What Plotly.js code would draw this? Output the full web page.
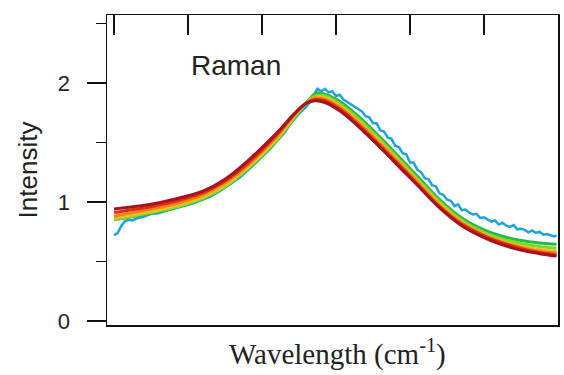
<!DOCTYPE html>
<html>
<head>
<meta charset="utf-8">
<script src="https://cdn.plot.ly/plotly-3.0.1.min.js"></script>
<style>html,body{margin:0;padding:0;background:#fff;}#chart{width:564px;height:375px;}</style>
</head>
<body>
<div id="chart"></div>
<script>
// Shared x grid for the smooth curves (arbitrary wavenumber units)
var xSmooth = [0, 20, 50, 80, 120, 150, 180, 220, 245, 260, 272, 285, 305, 330, 360, 390, 410, 440, 470, 500, 520, 550, 575, 598];

var darkRed    = [0.94, 0.955, 0.98, 1.02, 1.09, 1.19, 1.34, 1.58, 1.75, 1.83, 1.85, 1.835, 1.765, 1.635, 1.455, 1.265, 1.14, 0.95, 0.80, 0.70, 0.65, 0.595, 0.565, 0.545];
var red        = [0.91, 0.93, 0.96, 1.00, 1.075, 1.175, 1.32, 1.565, 1.745, 1.83, 1.86, 1.85, 1.78, 1.65, 1.47, 1.28, 1.15, 0.96, 0.812, 0.715, 0.665, 0.61, 0.575, 0.555];
var orange     = [0.88, 0.905, 0.94, 0.98, 1.06, 1.16, 1.305, 1.55, 1.74, 1.83, 1.87, 1.86, 1.795, 1.665, 1.485, 1.295, 1.165, 0.972, 0.822, 0.722, 0.672, 0.618, 0.585, 0.57];
var yellow     = [0.86, 0.885, 0.92, 0.96, 1.04, 1.14, 1.285, 1.53, 1.73, 1.83, 1.88, 1.875, 1.81, 1.68, 1.50, 1.31, 1.18, 0.985, 0.832, 0.73, 0.68, 0.63, 0.60, 0.585];
var lightGreen = [0.85, 0.875, 0.91, 0.95, 1.03, 1.13, 1.275, 1.52, 1.72, 1.83, 1.89, 1.89, 1.825, 1.70, 1.52, 1.325, 1.195, 1.00, 0.847, 0.745, 0.70, 0.65, 0.625, 0.61];
var green      = [0.85, 0.87, 0.905, 0.945, 1.025, 1.125, 1.27, 1.515, 1.715, 1.83, 1.91, 1.905, 1.845, 1.72, 1.54, 1.345, 1.215, 1.02, 0.865, 0.765, 0.72, 0.675, 0.655, 0.645];

// Noisy measured spectrum (blue)
var xBlue = [0, 5, 10, 15, 20, 25, 30, 40, 50, 60, 70, 80, 90, 100, 110, 120, 130, 140, 150, 160, 170, 180, 190, 200, 210, 220, 230, 240, 250, 260, 265, 270, 275, 280, 285, 290, 295, 300, 305, 310, 320, 330, 335, 340, 345, 350, 355, 360, 365, 370, 375, 380, 385, 390, 395, 400, 405, 410, 415, 420, 425, 430, 435, 440, 445, 450, 455, 460, 465, 470, 475, 480, 485, 490, 495, 500, 505, 510, 515, 520, 525, 530, 535, 540, 545, 550, 555, 560, 565, 570, 575, 580, 585, 590, 595, 598];
var blue  = [0.72, 0.74, 0.80, 0.84, 0.85, 0.845, 0.86, 0.875, 0.90, 0.905, 0.925, 0.94, 0.955, 0.975, 0.995, 1.02, 1.045, 1.08, 1.12, 1.16, 1.205, 1.26, 1.32, 1.38, 1.44, 1.51, 1.58, 1.67, 1.74, 1.80, 1.84, 1.90, 1.95, 1.93, 1.95, 1.92, 1.93, 1.89, 1.90, 1.86, 1.82, 1.78, 1.76, 1.72, 1.71, 1.66, 1.66, 1.60, 1.59, 1.54, 1.53, 1.47, 1.46, 1.41, 1.40, 1.33, 1.33, 1.27, 1.25, 1.20, 1.19, 1.14, 1.13, 1.07, 1.06, 1.02, 1.01, 0.965, 0.98, 0.93, 0.935, 0.91, 0.895, 0.90, 0.865, 0.87, 0.855, 0.835, 0.845, 0.81, 0.825, 0.80, 0.79, 0.805, 0.77, 0.775, 0.765, 0.745, 0.76, 0.74, 0.75, 0.725, 0.73, 0.72, 0.71, 0.72];

var xTicks = [0, 100, 200, 300, 400, 500, 600];

function smooth(y, color, axis) {
  return {x: xSmooth, y: y, type: 'scatter', mode: 'lines', xaxis: axis || 'x',
          line: {color: color, width: 3, shape: 'spline', smoothing: 1}, hoverinfo: 'skip'};
}

var traces = [
  {x: xBlue, y: blue, type: 'scatter', mode: 'lines', line: {color: '#1fa3e0', width: 2.5}, hoverinfo: 'skip'},
  smooth(green, '#27b84a'),
  smooth(lightGreen, '#74dc2a'),
  smooth(yellow, '#e8c020'),
  smooth(orange, '#f28216'),
  smooth(red, '#e32a14'),
  smooth(darkRed, '#a3141f', 'x2')
];

var layout = {
  width: 564, height: 375,
  margin: {l: 107, r: 6, t: 15, b: 50},
  paper_bgcolor: '#fff', plot_bgcolor: '#fff',
  showlegend: false,
  xaxis: {
    range: [-9.5, 600], showgrid: false, zeroline: false,
    showline: true, mirror: true, linecolor: '#111', linewidth: 1.5,
    ticks: '', showticklabels: false
  },
  xaxis2: {
    overlaying: 'x', matches: 'x', side: 'top', showgrid: false, zeroline: false,
    tickmode: 'array', tickvals: xTicks, ticks: 'inside', ticklen: 20, tickwidth: 2,
    tickcolor: '#111', showticklabels: false, showline: false
  },
  yaxis: {
    range: [-0.034, 2.57], showgrid: false, zeroline: false,
    showline: true, mirror: true, linecolor: '#111', linewidth: 1.5,
    tickmode: 'array', tickvals: [0, 1, 2], ticktext: ['0', '1', '2'],
    ticks: 'outside', ticklen: 19, tickwidth: 1.5, tickcolor: '#111',
    ticklabelstandoff: 12,
    minor: {tickmode: 'array', tickvals: [0.5, 1.5, 2.5], ticks: 'outside', ticklen: 10, tickwidth: 1.5, tickcolor: '#111'},
    tickfont: {family: 'Liberation Sans, Arial, sans-serif', size: 22, color: '#222'},
    title: {text: 'Intensity', standoff: 12,
            font: {family: 'Liberation Sans, Arial, sans-serif', size: 26, color: '#222'}}
  },
  annotations: [
    {
      text: 'Raman', x: 101, y: 2.15, xref: 'x', yref: 'y', xanchor: 'left', yanchor: 'middle',
      showarrow: false, font: {family: 'Liberation Sans, Arial, sans-serif', size: 28, color: '#222'}
    },
    {
      text: 'Wavelength (cm<sup>-1</sup>)', x: 0.51, y: 0, xref: 'paper', yref: 'paper',
      xanchor: 'center', yanchor: 'top', yshift: -7, showarrow: false,
      font: {family: 'Liberation Serif, Times New Roman, serif', size: 29, color: '#222'}
    }
  ]
};

Plotly.newPlot('chart', traces, layout, {displayModeBar: false, staticPlot: true});
</script>
</body>
</html>
